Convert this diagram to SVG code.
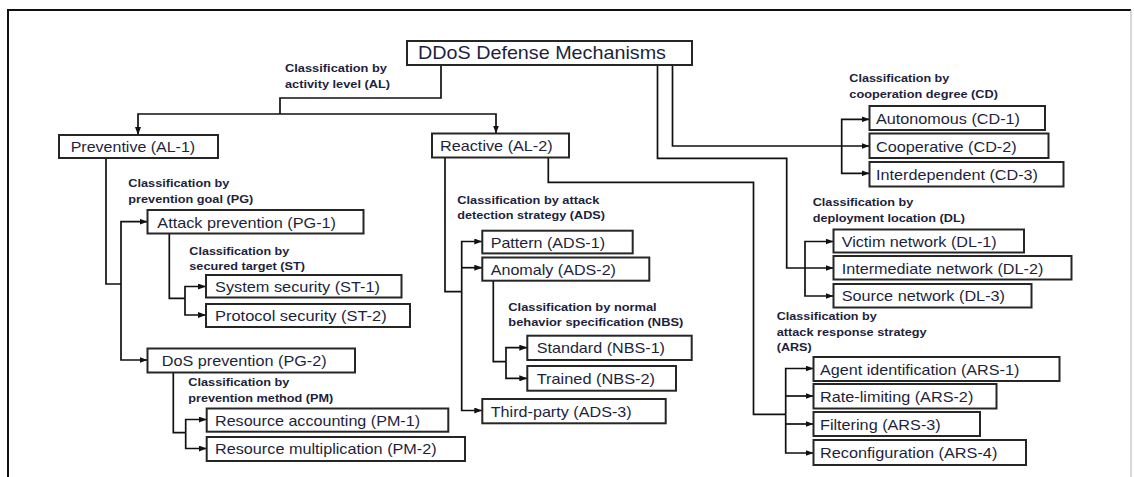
<svg xmlns="http://www.w3.org/2000/svg" width="1134" height="477" viewBox="0 0 1134 477">
  <style>
    .box { fill: #ffffff; stroke: #262626; stroke-width: 2; }
    .lbl { font-family: "Liberation Sans", Arial, sans-serif; font-size: 15px; fill: #1e1f3c; }
    .root { font-size: 19px; }
    .cls { font-family: "Liberation Sans", Arial, sans-serif; font-size: 11px; font-weight: bold; fill: #1e1f3c; }
    .wire { fill: none; stroke: #111111; stroke-width: 1.7; }
    .arr { marker-end: url(#head); }
  </style>
  <defs>
    <marker id="head" viewBox="0 0 8 6" refX="8" refY="3" markerWidth="8" markerHeight="6" markerUnits="userSpaceOnUse" orient="auto">
      <path d="M0,0 L8,3 L0,6 z" fill="#111111"/>
    </marker>
  </defs>

  <rect x="0" y="0" width="1134" height="477" fill="#ffffff"/>

  <!-- outer frame -->
  <g id="frame">
    <path d="M8,477 V10 H1131" fill="none" stroke="#111111" stroke-width="2"/>
    <path d="M1131,10 V477" fill="none" stroke="#b0b0b0" stroke-width="1"/>
  </g>

  <!-- connectors -->
  <g id="connectors">
    <!-- activity level -->
    <path class="wire" d="M441,65 V98 H280 V114"/>
    <path class="wire arr" d="M280,114 H138 V135"/>
    <path class="wire arr" d="M280,114 H496 V133.5"/>
    <!-- cooperation degree -->
    <path class="wire arr" d="M672.5,65 V146 H869.5"/>
    <path class="wire arr" d="M841.7,146 V119.3 H869.5"/>
    <path class="wire arr" d="M841.7,146 V173.3 H869.5"/>
    <!-- deployment location -->
    <path class="wire arr" d="M657.5,65 V158.3 H786.7 V268 H833.5"/>
    <path class="wire arr" d="M805,268 V241.5 H833.5"/>
    <path class="wire arr" d="M805,268 V296 H833.5"/>
    <!-- attack response strategy -->
    <path class="wire" d="M548.3,157.5 V182.3 H753.5 V414.3 H785.7"/>
    <path class="wire arr" d="M785.7,414.3 V368.5 H813.5"/>
    <path class="wire arr" d="M785.7,396 H813.5"/>
    <path class="wire arr" d="M785.7,424 H813.5"/>
    <path class="wire arr" d="M785.7,414.3 V453 H813.5"/>
    <!-- prevention goal -->
    <path class="wire" d="M106,158 V284 H121"/>
    <path class="wire arr" d="M121,284 V221.7 H147.5"/>
    <path class="wire arr" d="M121,284 V360 H147.5"/>
    <!-- secured target -->
    <path class="wire" d="M169.3,233.5 V298.3 H185"/>
    <path class="wire arr" d="M185,298.3 V286.5 H206"/>
    <path class="wire arr" d="M185,298.3 V315 H206"/>
    <!-- prevention method -->
    <path class="wire" d="M173.3,372.5 V432.7 H185.7"/>
    <path class="wire arr" d="M185.7,432.7 V419.5 H206.7"/>
    <path class="wire arr" d="M185.7,432.7 V448.5 H206.7"/>
    <!-- attack detection strategy -->
    <path class="wire" d="M445,157.5 V291.7 H461.7"/>
    <path class="wire arr" d="M461.7,291.7 V241.5 H482.3"/>
    <path class="wire arr" d="M461.7,267.7 H482.3"/>
    <path class="wire arr" d="M461.7,291.7 V410.5 H482.3"/>
    <!-- normal behavior specification -->
    <path class="wire" d="M493.3,280.7 V361.7 H506"/>
    <path class="wire arr" d="M506,361.7 V347.7 H527.3"/>
    <path class="wire arr" d="M506,361.7 V378.3 H527.3"/>
  </g>

  <!-- classification labels -->
  <g id="label-al">
    <text class="cls" x="285" y="72" textLength="102" lengthAdjust="spacingAndGlyphs">Classification by</text>
    <text class="cls" x="285" y="87.5" textLength="105" lengthAdjust="spacingAndGlyphs">activity level (AL)</text>
  </g>
  <g id="label-cd">
    <text class="cls" x="849.3" y="82" textLength="100" lengthAdjust="spacingAndGlyphs">Classification by</text>
    <text class="cls" x="849.3" y="97.5" textLength="148.7" lengthAdjust="spacingAndGlyphs">cooperation degree (CD)</text>
  </g>
  <g id="label-dl">
    <text class="cls" x="812.7" y="206" textLength="100.6" lengthAdjust="spacingAndGlyphs">Classification by</text>
    <text class="cls" x="812.7" y="221.7" textLength="152.3" lengthAdjust="spacingAndGlyphs">deployment location (DL)</text>
  </g>
  <g id="label-ars">
    <text class="cls" x="776.7" y="320" textLength="100" lengthAdjust="spacingAndGlyphs">Classification by</text>
    <text class="cls" x="776.7" y="336" textLength="150" lengthAdjust="spacingAndGlyphs">attack response strategy</text>
    <text class="cls" x="776.7" y="351" textLength="35" lengthAdjust="spacingAndGlyphs">(ARS)</text>
  </g>
  <g id="label-pg">
    <text class="cls" x="128.3" y="187.3" textLength="101" lengthAdjust="spacingAndGlyphs">Classification by</text>
    <text class="cls" x="128.3" y="203.3" textLength="125" lengthAdjust="spacingAndGlyphs">prevention goal (PG)</text>
  </g>
  <g id="label-st">
    <text class="cls" x="189.3" y="255" textLength="100" lengthAdjust="spacingAndGlyphs">Classification by</text>
    <text class="cls" x="189.3" y="270" textLength="115.7" lengthAdjust="spacingAndGlyphs">secured target (ST)</text>
  </g>
  <g id="label-pm">
    <text class="cls" x="188.3" y="386" textLength="101" lengthAdjust="spacingAndGlyphs">Classification by</text>
    <text class="cls" x="188.3" y="401.7" textLength="145" lengthAdjust="spacingAndGlyphs">prevention method (PM)</text>
  </g>
  <g id="label-ads">
    <text class="cls" x="457.3" y="204" textLength="142" lengthAdjust="spacingAndGlyphs">Classification by attack</text>
    <text class="cls" x="457.3" y="219.3" textLength="147.7" lengthAdjust="spacingAndGlyphs">detection strategy (ADS)</text>
  </g>
  <g id="label-nbs">
    <text class="cls" x="508.3" y="310.7" textLength="148.4" lengthAdjust="spacingAndGlyphs">Classification by normal</text>
    <text class="cls" x="508.3" y="325.7" textLength="175" lengthAdjust="spacingAndGlyphs">behavior specification (NBS)</text>
  </g>

  <!-- nodes -->
  <g id="root">
    <rect class="box" x="407" y="41" width="285" height="24"/>
    <text class="lbl root" x="418" y="59" textLength="248" lengthAdjust="spacingAndGlyphs">DDoS Defense Mechanisms</text>
  </g>
  <g id="al-1">
    <rect class="box" x="59" y="135" width="159" height="23"/>
    <text class="lbl" x="70.7" y="151.5" textLength="124.5" lengthAdjust="spacingAndGlyphs">Preventive (AL-1)</text>
  </g>
  <g id="al-2">
    <rect class="box" x="432" y="133.5" width="137" height="24"/>
    <text class="lbl" x="440" y="151" textLength="112.7" lengthAdjust="spacingAndGlyphs">Reactive (AL-2)</text>
  </g>
  <g id="cd-1">
    <rect class="box" x="869.5" y="106" width="175.5" height="24"/>
    <text class="lbl" x="876" y="124" textLength="144" lengthAdjust="spacingAndGlyphs">Autonomous (CD-1)</text>
  </g>
  <g id="cd-2">
    <rect class="box" x="869.5" y="133.5" width="179" height="24.5"/>
    <text class="lbl" x="876" y="151.5" textLength="140.7" lengthAdjust="spacingAndGlyphs">Cooperative (CD-2)</text>
  </g>
  <g id="cd-3">
    <rect class="box" x="869.5" y="162" width="194" height="24.5"/>
    <text class="lbl" x="876" y="180" textLength="162" lengthAdjust="spacingAndGlyphs">Interdependent (CD-3)</text>
  </g>
  <g id="dl-1">
    <rect class="box" x="833.5" y="229.5" width="190.5" height="23"/>
    <text class="lbl" x="841.7" y="246.5" textLength="155" lengthAdjust="spacingAndGlyphs">Victim network (DL-1)</text>
  </g>
  <g id="dl-2">
    <rect class="box" x="833.5" y="256" width="238" height="23.5"/>
    <text class="lbl" x="841.7" y="273.5" textLength="201.6" lengthAdjust="spacingAndGlyphs">Intermediate network (DL-2)</text>
  </g>
  <g id="dl-3">
    <rect class="box" x="833.5" y="284" width="198" height="23.5"/>
    <text class="lbl" x="841.7" y="301" textLength="163.3" lengthAdjust="spacingAndGlyphs">Source network (DL-3)</text>
  </g>
  <g id="ars-1">
    <rect class="box" x="813.5" y="357" width="246" height="24"/>
    <text class="lbl" x="820" y="375" textLength="199.3" lengthAdjust="spacingAndGlyphs">Agent identification (ARS-1)</text>
  </g>
  <g id="ars-2">
    <rect class="box" x="813.5" y="384" width="183" height="24.5"/>
    <text class="lbl" x="820" y="402" textLength="153.3" lengthAdjust="spacingAndGlyphs">Rate-limiting (ARS-2)</text>
  </g>
  <g id="ars-3">
    <rect class="box" x="813.5" y="412" width="166.5" height="24"/>
    <text class="lbl" x="820" y="430" textLength="120.7" lengthAdjust="spacingAndGlyphs">Filtering (ARS-3)</text>
  </g>
  <g id="ars-4">
    <rect class="box" x="813.5" y="440" width="212.5" height="25"/>
    <text class="lbl" x="820" y="458" textLength="177.3" lengthAdjust="spacingAndGlyphs">Reconfiguration (ARS-4)</text>
  </g>
  <g id="pg-1">
    <rect class="box" x="147.5" y="210" width="216" height="23.5"/>
    <text class="lbl" x="157.3" y="227.5" textLength="178.7" lengthAdjust="spacingAndGlyphs">Attack prevention (PG-1)</text>
  </g>
  <g id="st-1">
    <rect class="box" x="206" y="275" width="195.5" height="22.5"/>
    <text class="lbl" x="215" y="292" textLength="165" lengthAdjust="spacingAndGlyphs">System security (ST-1)</text>
  </g>
  <g id="st-2">
    <rect class="box" x="206" y="304" width="204" height="23"/>
    <text class="lbl" x="215" y="321" textLength="171.7" lengthAdjust="spacingAndGlyphs">Protocol security (ST-2)</text>
  </g>
  <g id="pg-2">
    <rect class="box" x="147.5" y="348.5" width="207.5" height="24"/>
    <text class="lbl" x="161.7" y="365.5" textLength="165" lengthAdjust="spacingAndGlyphs">DoS prevention (PG-2)</text>
  </g>
  <g id="pm-1">
    <rect class="box" x="206.7" y="408.5" width="241.6" height="23.2"/>
    <text class="lbl" x="215" y="425.5" textLength="205" lengthAdjust="spacingAndGlyphs">Resource accounting (PM-1)</text>
  </g>
  <g id="pm-2">
    <rect class="box" x="206.7" y="437" width="258.3" height="24"/>
    <text class="lbl" x="215" y="454" textLength="221.7" lengthAdjust="spacingAndGlyphs">Resource multiplication (PM-2)</text>
  </g>
  <g id="ads-1">
    <rect class="box" x="482.3" y="230.7" width="150.4" height="22.7"/>
    <text class="lbl" x="490.7" y="247.5" textLength="114.3" lengthAdjust="spacingAndGlyphs">Pattern (ADS-1)</text>
  </g>
  <g id="ads-2">
    <rect class="box" x="482.3" y="257.5" width="167" height="23.2"/>
    <text class="lbl" x="490.7" y="274.5" textLength="125.3" lengthAdjust="spacingAndGlyphs">Anomaly (ADS-2)</text>
  </g>
  <g id="nbs-1">
    <rect class="box" x="527.3" y="335.7" width="164.4" height="24.3"/>
    <text class="lbl" x="536.7" y="353" textLength="128.3" lengthAdjust="spacingAndGlyphs">Standard (NBS-1)</text>
  </g>
  <g id="nbs-2">
    <rect class="box" x="527.3" y="366" width="148.7" height="24.7"/>
    <text class="lbl" x="536.7" y="383.5" textLength="118.3" lengthAdjust="spacingAndGlyphs">Trained (NBS-2)</text>
  </g>
  <g id="ads-3">
    <rect class="box" x="482.3" y="399" width="183.4" height="24.3"/>
    <text class="lbl" x="490.7" y="416.5" textLength="141" lengthAdjust="spacingAndGlyphs">Third-party (ADS-3)</text>
  </g>
</svg>
